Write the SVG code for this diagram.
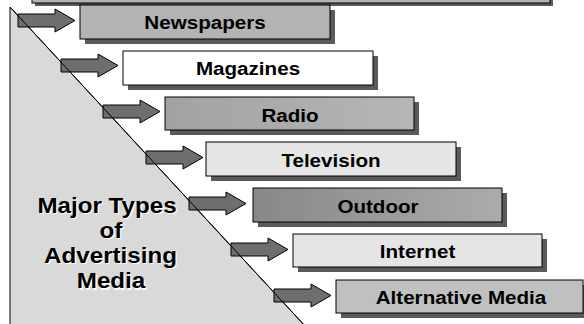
<svg xmlns="http://www.w3.org/2000/svg" width="584" height="324" viewBox="0 0 584 324">
<style>
.box{stroke:#000;stroke-width:1}
.shadow{fill:#5a5a5a}
.lbl{font-family:"Liberation Sans",Arial,sans-serif;font-weight:bold;font-size:19px;fill:#000;text-anchor:middle}
.big{font-family:"Liberation Sans",Arial,sans-serif;font-weight:bold;font-size:22.5px;text-anchor:middle}
.arrow{fill:#6e6e6e;stroke:#000;stroke-width:1}
</style>
<defs>
<linearGradient id="gRadio" x1="0" y1="0" x2="1" y2="0">
<stop offset="0" stop-color="#a2a2a2"/><stop offset="1" stop-color="#b6b6b6"/>
</linearGradient>
<linearGradient id="gOut" x1="0" y1="0" x2="1" y2="0">
<stop offset="0" stop-color="#888888"/><stop offset="1" stop-color="#ababab"/>
</linearGradient>
<path id="arr" d="M-62,9 H-25 V4 L-5,15.5 L-25,27 V22 H-62 Z"/>
</defs>
<rect width="584" height="324" fill="#fff"/>
<g id="header">
<rect x="35" y="-27" width="518" height="33" class="shadow"/>
<rect x="32" y="-30" width="518" height="33" fill="#b3b3b3" class="box"/>
</g>
<g id="triangle">
<polygon points="10,7 10,340 318,340" fill="#d9d9d9" stroke="#000" stroke-width="1"/>
</g>
<g id="connectors">
<use href="#arr" class="arrow" transform="translate(80,5)"/>
<use href="#arr" class="arrow" transform="translate(123,50)"/>
<use href="#arr" class="arrow" transform="translate(165,96)"/>
<use href="#arr" class="arrow" transform="translate(208,142)"/>
<use href="#arr" class="arrow" transform="translate(251,188)"/>
<use href="#arr" class="arrow" transform="translate(293,234)"/>
<use href="#arr" class="arrow" transform="translate(336,280)"/>
</g>
<line x1="10" y1="7" x2="318" y2="340" stroke="#000" stroke-width="1"/>
<g id="title">
<g class="big" fill="#fff" transform="translate(1.2,1.2)">
<text transform="translate(107,212.5) scale(1.075,1)">Major Types</text>
<text transform="translate(111,237.8) scale(1.075,1)">of</text>
<text transform="translate(110.5,263) scale(1.075,1)">Advertising</text>
<text transform="translate(111,288.3) scale(1.075,1)">Media</text>
</g>
<g class="big" fill="#000">
<text transform="translate(107,212.5) scale(1.075,1)">Major Types</text>
<text transform="translate(111,237.8) scale(1.075,1)">of</text>
<text transform="translate(110.5,263) scale(1.075,1)">Advertising</text>
<text transform="translate(111,288.3) scale(1.075,1)">Media</text>
</g>
</g>
<g id="newspapers">
<rect x="85" y="10" width="250" height="34" class="shadow"/>
<rect x="80" y="5" width="250" height="34" fill="#b3b3b3" class="box"/>
<text class="lbl" transform="translate(205,29) scale(1.085,1)">Newspapers</text>
</g>
<g id="magazines">
<rect x="128" y="56" width="250" height="34" class="shadow"/>
<rect x="123" y="51" width="250" height="34" fill="#fff" class="box"/>
<text class="lbl" transform="translate(248,75) scale(1.085,1)">Magazines</text>
</g>
<g id="radio">
<rect x="170" y="102" width="249" height="33" class="shadow"/>
<rect x="165" y="97" width="249" height="33" fill="url(#gRadio)" class="box"/>
<text class="lbl" transform="translate(290,121.5) scale(1.085,1)">Radio</text>
</g>
<g id="television">
<rect x="211" y="147" width="250" height="34" class="shadow"/>
<rect x="206" y="142" width="250" height="34" fill="#e5e5e5" class="box"/>
<text class="lbl" transform="translate(331,166.5) scale(1.085,1)">Television</text>
</g>
<g id="outdoor">
<rect x="258" y="193" width="249" height="34" class="shadow"/>
<rect x="253" y="188" width="249" height="34" fill="url(#gOut)" class="box"/>
<text class="lbl" transform="translate(378,212.5) scale(1.085,1)">Outdoor</text>
</g>
<g id="internet">
<rect x="298" y="239" width="249" height="33" class="shadow"/>
<rect x="293" y="234" width="249" height="33" fill="#e5e5e5" class="box"/>
<text class="lbl" transform="translate(417.5,258) scale(1.085,1)">Internet</text>
</g>
<g id="alternative-media">
<rect x="341" y="285" width="247" height="33" class="shadow"/>
<rect x="336" y="280" width="247" height="33" fill="#c0c0c0" class="box"/>
<text class="lbl" transform="translate(461,304) scale(1.085,1)">Alternative Media</text>
</g>
</svg>
